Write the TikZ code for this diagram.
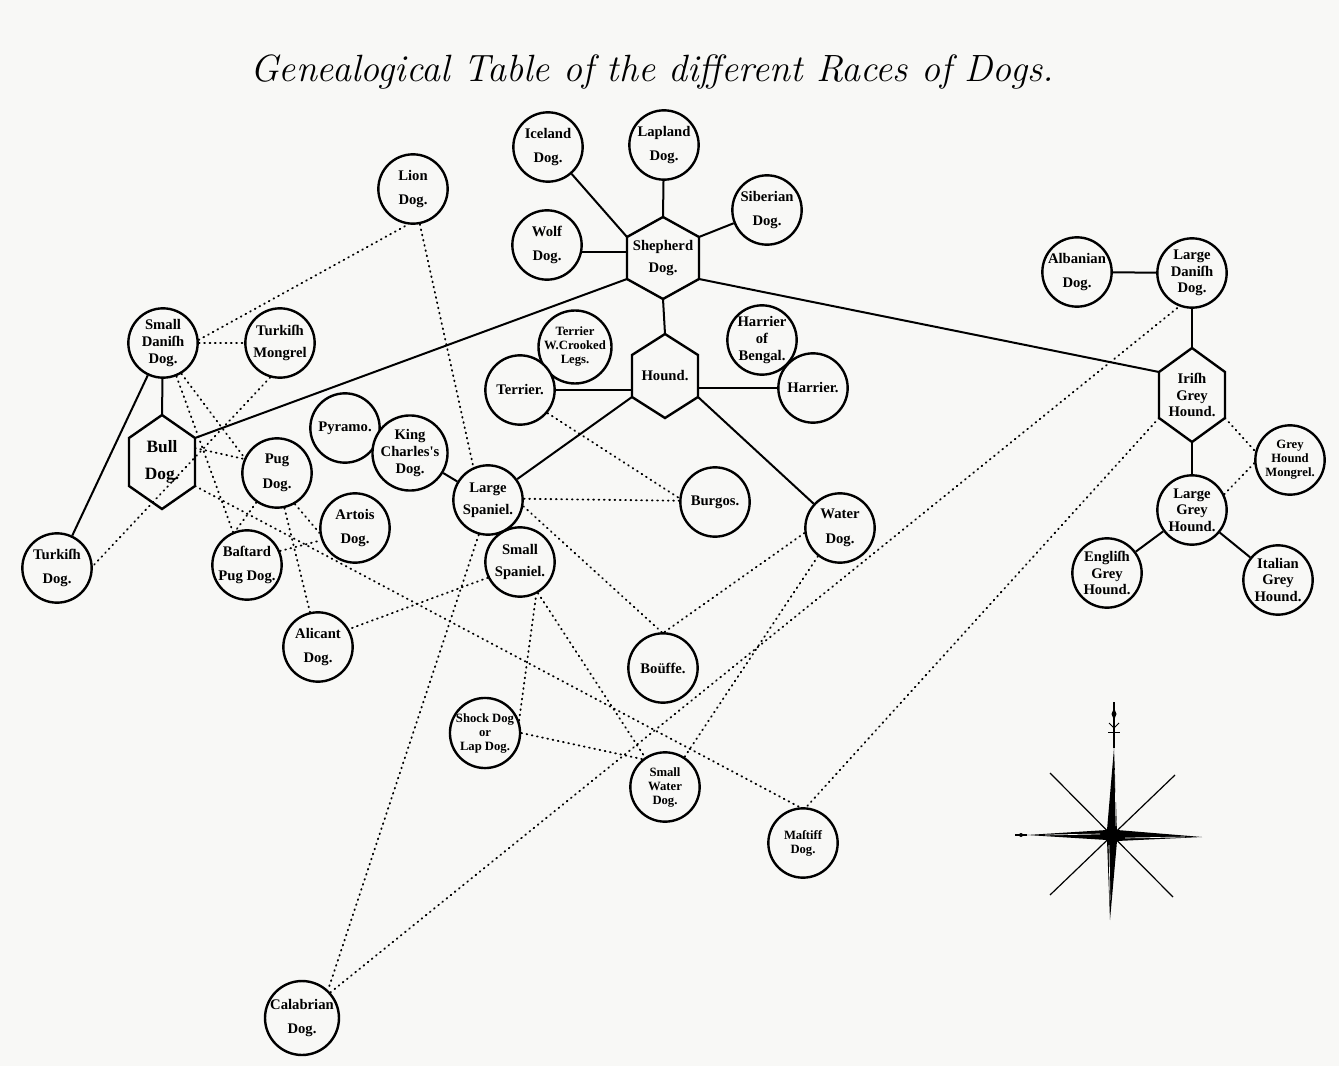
\documentclass[tikz,border=0pt]{standalone}
\usepackage{fontspec}
\usepackage{graphicx}
\usetikzlibrary{calc}
\newfontfamily\dogfam{Liberation Serif}
\definecolor{bgc}{RGB}{248,248,246}
\newcommand\dogfont{\dogfam\bfseries\fontsize{11}{12.5}\selectfont}
\newcommand\smalldogfont{\dogfam\bfseries\fontsize{9.5}{10.5}\selectfont}
\newcommand\bigdogfont{\dogfam\bfseries\fontsize{13}{14}\selectfont}
\newcommand\titlefont{\itshape\fontsize{28.5}{30}\selectfont}
\newcommand\hexnode[8]{%
  \coordinate (#1-t) at (#2,#3-#5);
  \coordinate (#1-ur) at (#2+#4,#3-#6);
  \coordinate (#1-lr) at (#2+#4,#3+#6);
  \coordinate (#1-b) at (#2,#3+#5);
  \coordinate (#1-ll) at (#2-#4,#3+#6);
  \coordinate (#1-ul) at (#2-#4,#3-#6);
  \coordinate (#1-l) at (#2-#4,#3);
  \coordinate (#1-r) at (#2+#4,#3);
  \draw[hexline] (#1-t) -- (#1-ur) -- (#1-lr) -- (#1-b) -- (#1-ll) -- (#1-ul) -- cycle;
  \node[hextext,#8] (#1) at (#2,#3) {#7};
}
\tikzset{
  dog/.style={circle, draw, line width=1.8pt, minimum size=52pt, inner sep=0pt,
    align=center, font=\dogfont, fill=bgc},
  sdog/.style={dog, font=\smalldogfont},
  hexline/.style={line width=1.8pt, fill=bgc, line join=miter},
  hextext/.style={align=center, font=\dogfont, inner sep=0pt},
  bighex/.style={font=\bigdogfont},
  solidl/.style={line width=1.5pt},
  dotl/.style={line width=1.4pt, dash pattern=on 0.6pt off 3.4pt, line cap=round},
}
\begin{document}
\begin{tikzpicture}[x=0.75pt,y=-0.75pt]
\fill[bgc] (0,0) rectangle (1339,1066);
\useasboundingbox (0,0) rectangle (1339,1066);

% title
\node[font=\titlefont] (title) at (652,72) {Genealogical Table of the different Races of Dogs.};

% circle nodes
\node[dog] (iceland) at (548,147) {Iceland\\[6pt]Dog.};
\node[dog] (lapland) at (664,145) {Lapland\\[6pt]Dog.};
\node[dog] (siberian) at (767,210) {Siberian\\[6pt]Dog.};
\node[dog] (wolf) at (547,245) {Wolf\\[6pt]Dog.};
\node[dog] (lion) at (413,189) {Lion\\[6pt]Dog.};
\node[dog] (sdanish) at (163,343) {Small\\Daniſh\\Dog.};
\node[dog] (tmongrel) at (280,343) {Turkiſh\\[4pt]Mongrel};
\node[dog] (pyramo) at (345,428) {Pyramo.};
\node[dog] (kingch) at (410,453) {King\\Charles's\\Dog.};
\node[dog] (pug) at (277,473) {Pug\\[6pt]Dog.};
\node[dog] (artois) at (355,528) {Artois\\[6pt]Dog.};
\node[dog] (bastard) at (247,565) {Baſtard\\[6pt]Pug Dog.};
\node[dog] (tdog) at (57,568) {Turkiſh\\[6pt]Dog.};
\node[dog] (alicant) at (318,647) {Alicant\\[6pt]Dog.};
\node[sdog] (terrierc) at (575,347) {Terrier\\W.Crooked\\Legs.};
\node[dog] (terrier) at (520,390) {Terrier.};
\node[dog] (harrierb) at (762,340) {Harrier\\of\\Bengal.};
\node[dog] (harrier) at (813,388) {Harrier.};
\node[dog] (lspaniel) at (488,500) {Large\\[4pt]Spaniel.};
\node[dog] (sspaniel) at (520,562) {Small\\[4pt]Spaniel.};
\node[dog] (burgos) at (715,502) {Burgos.};
\node[dog] (water) at (840,528) {Water\\[6pt]Dog.};
\node[dog] (bouffe) at (663,668) {Boüffe.};
\node[sdog] (shock) at (485,733) {Shock Dog\\or\\Lap Dog.};
\node[sdog] (swater) at (665,787) {Small\\Water\\Dog.};
\node[sdog] (mastiff) at (803,843) {Maſtiff\\Dog.};
\node[dog] (calabrian) at (302,1018) {Calabrian\\[6pt]Dog.};
\node[dog] (albanian) at (1077,272) {Albanian\\[6pt]Dog.};
\node[dog] (ldanish) at (1192,273) {Large\\Daniſh\\Dog.};
\node[sdog] (ghm) at (1290,460) {Grey\\Hound\\Mongrel.};
\node[dog] (lgrey) at (1192,510) {Large\\Grey\\Hound.};
\node[dog] (english) at (1107,573) {Engliſh\\Grey\\Hound.};
\node[dog] (italian) at (1278,580) {Italian\\Grey\\Hound.};

% hexagon nodes
\hexnode{shep}{663}{258}{36}{41}{21}{Shepherd\\[4pt]Dog.}{}
\hexnode{hound}{665}{376}{33}{42}{21}{Hound.}{}
\hexnode{bull}{162}{462}{33}{47}{24}{Bull\\[6pt]Dog.}{bighex}
\hexnode{irish}{1192}{395}{33}{47}{23}{Iriſh\\Grey\\Hound.}{}
\coordinate (bull-p) at (195,448);

% solid connectors
\draw[solidl] (iceland) -- (shep-ul);
\draw[solidl] (lapland) -- (shep-t);
\draw[solidl] (siberian) -- (shep-ur);
\draw[solidl] (wolf.-12) -- (wolf.-12 -| shep-l);
\draw[solidl] (shep-b) -- (hound-t);
\draw[solidl] (shep-ll) -- (bull-ur);
\draw[solidl] (shep-lr) -- (irish-ul);
\draw[solidl] (terrier) -- (terrier -| hound-l);
\draw[solidl] (harrier) -- (harrier -| hound-r);
\draw[solidl] (hound-ll) -- (lspaniel);
\draw[solidl] (hound-lr) -- (water);
\draw[solidl] (lspaniel) -- (kingch);
\draw[solidl] (sdanish) -- (bull-t);
\draw[solidl] (sdanish) -- (tdog);
\draw[solidl] (albanian) -- (ldanish);
\draw[solidl] (ldanish) -- (irish-t);
\draw[solidl] (irish-b) -- (lgrey);
\draw[solidl] (lgrey) -- (english);
\draw[solidl] (lgrey) -- (italian);

% dotted connectors
\draw[dotl] (sdanish.5) -- (lion.-98);
\draw[dotl] (sdanish) -- (tmongrel);
\draw[dotl] (tmongrel.-106) -- (tdog.3);
\draw[dotl] (sdanish.-59) -- (pug.155);
\draw[dotl] (sdanish.-68) -- (bastard.113);
\draw[dotl] (bull-p) -- (pug.157);
\draw[dotl] (bull-lr) -- (mastiff.95);
\draw[dotl] (pug.-125) -- (bastard.109);
\draw[dotl] (pug.-60) -- (artois.188);
\draw[dotl] (pug.-78) -- (alicant.103);
\draw[dotl] (bastard.23) -- (artois.200);
\draw[dotl] (lion.-79) -- (lspaniel.114);
\draw[dotl] (lspaniel.2) -- (burgos.178);
\draw[dotl] (terrier.-40) -- (burgos.174);
\draw[dotl] (lspaniel.-10) -- (bouffe.92);
\draw[dotl] (water.188) -- (bouffe.88);
\draw[dotl] (lspaniel.-105) -- (calabrian.47);
\draw[dotl] (calabrian.42) -- (ldanish.-111);
\draw[dotl] (water.-128) -- (swater.57);
\draw[dotl] (irish-ll) -- (mastiff.85);
\draw[dotl] (shock.20) -- (sspaniel.-63);
\draw[dotl] (shock.0) -- (swater.129);
\draw[dotl] (sspaniel.-60) -- (swater.124);
\draw[dotl] (sspaniel.-154) -- (alicant.30);
\draw[dotl] (irish-lr) -- (ghm.166);
\draw[dotl] (ghm.185) -- (lgrey.26);

% compass rose
\draw[line width=0.9pt] (1050,773) -- (1173,897);
\draw[line width=0.9pt] (1175,775) -- (1050,895);
\fill (1114,748) -- (1117,830) -- (1202,837) -- (1117,841) -- (1110,920)
  -- (1107,840) -- (1027,835) -- (1107,830) -- cycle;
\draw[bgc, line width=0.5pt] (1115,770) -- (1116,826);
\draw[bgc, line width=0.5pt] (1125,838) -- (1185,837);
\draw[bgc, line width=0.5pt] (1109,845) -- (1110,900);
\draw[bgc, line width=0.5pt] (1045,835) -- (1100,834);
\draw[line width=0.8pt] (1114,748) -- (1114,702);
\fill (1114,708) -- (1116.5,714) -- (1114,720) -- (1111.5,714) -- cycle;
\draw[line width=0.7pt] (1109,723) -- (1114,728) -- (1119,723);
\draw[line width=0.5pt] (1108,732) -- (1120,732);
\draw[line width=0.8pt] (1027,835) -- (1015,835);
\fill (1021,835) circle (2);
\end{tikzpicture}
\end{document}
